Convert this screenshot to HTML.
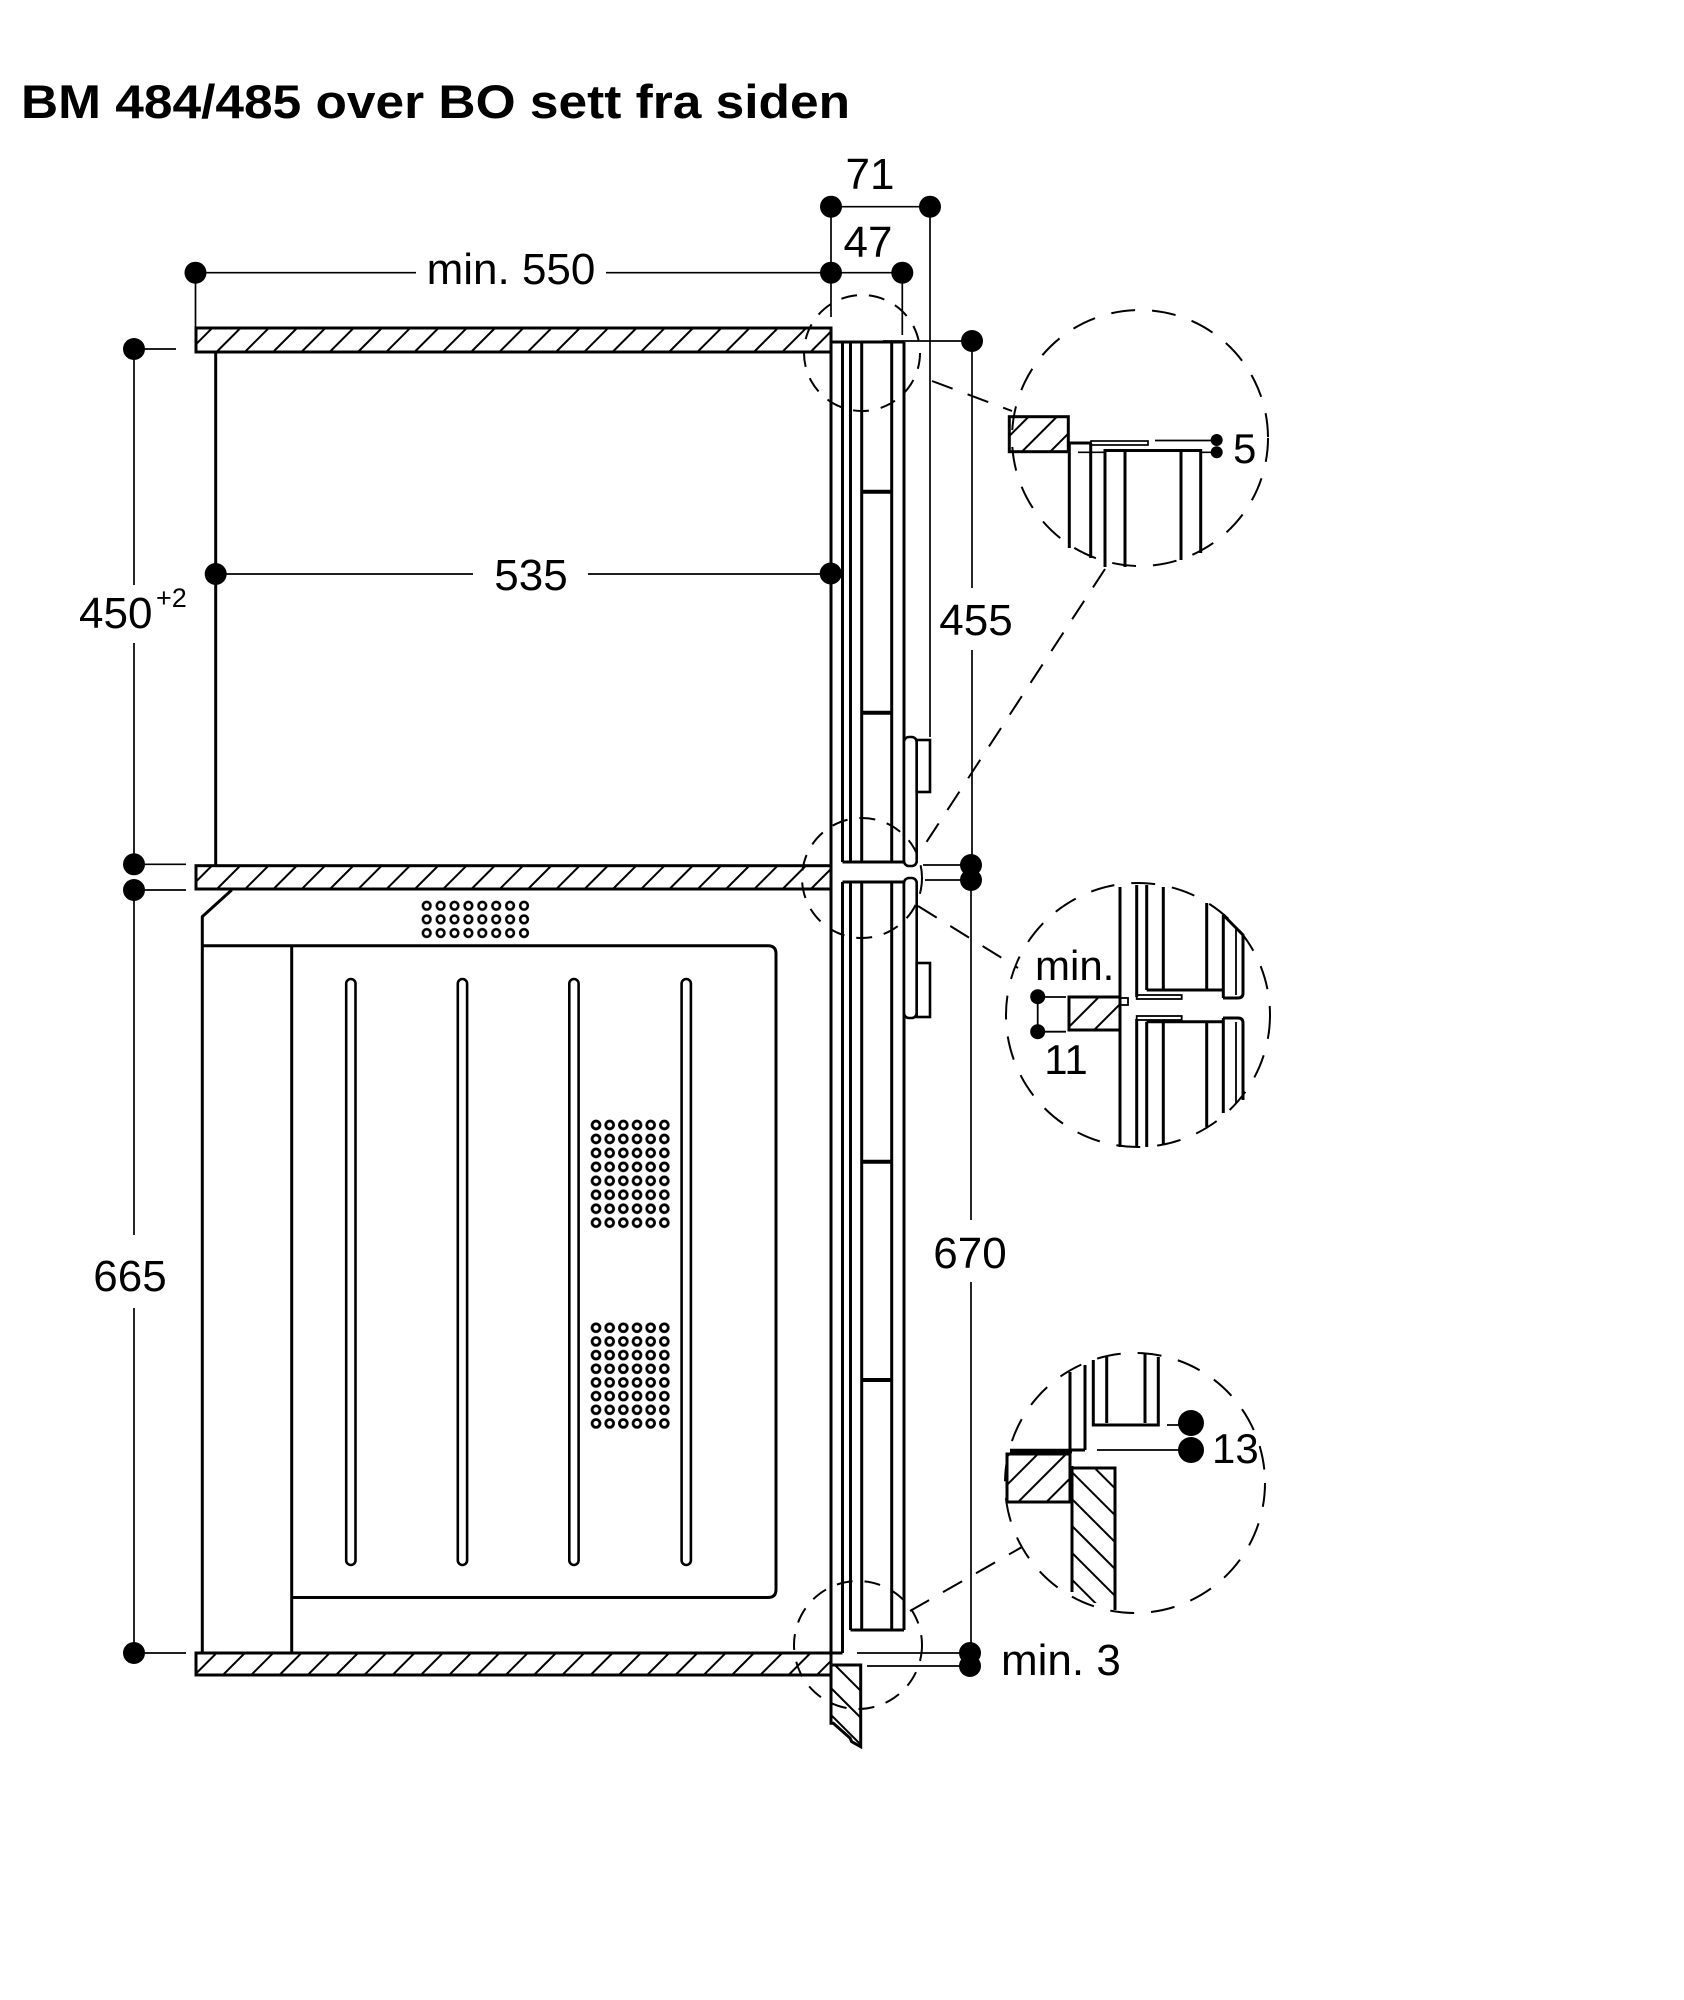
<!DOCTYPE html>
<html><head><meta charset="utf-8"><style>
html,body{margin:0;padding:0;background:#fff;}
svg{display:block;}
text{font-family:"Liberation Sans",Arial,sans-serif;fill:#000;}
</style></head><body>
<svg width="1684" height="2000" viewBox="0 0 1684 2000" xmlns="http://www.w3.org/2000/svg">
<defs>
<pattern id="h1" width="20" height="20" patternUnits="userSpaceOnUse" patternTransform="rotate(45)"><line x1="2" y1="0" x2="2" y2="20" stroke="#000" stroke-width="2"/></pattern>
<pattern id="h2" width="19" height="19" patternUnits="userSpaceOnUse" patternTransform="rotate(-45)"><line x1="2" y1="0" x2="2" y2="19" stroke="#000" stroke-width="2"/></pattern>
<pattern id="vent" x="419.75" y="898.9" width="13.9" height="13.65" patternUnits="userSpaceOnUse"><circle cx="6.95" cy="6.825" r="3.8" fill="none" stroke="#000" stroke-width="2.6"/></pattern>
<pattern id="gr1" x="589.2" y="1118" width="13.66" height="13.96" patternUnits="userSpaceOnUse"><circle cx="6.83" cy="6.98" r="3.9" fill="none" stroke="#000" stroke-width="2.8"/></pattern>
<pattern id="gr2" x="589.2" y="1320.9" width="13.66" height="13.67" patternUnits="userSpaceOnUse"><circle cx="6.83" cy="6.83" r="3.9" fill="none" stroke="#000" stroke-width="2.8"/></pattern>
</defs>

<!-- Title -->
<text x="21" y="118" font-size="47" font-weight="bold" textLength="829" lengthAdjust="spacingAndGlyphs">BM 484/485 over BO sett fra siden</text>

<!-- Shelves -->
<g stroke="#000" stroke-width="3">
<rect x="196" y="328" width="635" height="24" fill="url(#h1)"/>
<rect x="196" y="865.7" width="635" height="23.3" fill="url(#h1)"/>
<rect x="196" y="1653" width="635" height="22" fill="url(#h1)"/>
</g>

<!-- Upper cabinet wall -->
<line x1="215.7" y1="352" x2="215.7" y2="865.7" stroke="#000" stroke-width="3"/>

<!-- Oven -->
<g fill="none" stroke="#000" stroke-width="3">
<path d="M231.7 890 L202.3 916.7 L202.3 1653"/>
<path d="M202.3 945.7 L768 945.7 Q776 945.7 776 953.7 L776 1589.5 Q776 1597.5 768 1597.5 L291.7 1597.5"/>
<line x1="291.7" y1="945.7" x2="291.7" y2="1653"/>
</g>
<g fill="none" stroke="#000" stroke-width="2.6">
<rect x="346.2" y="979" width="9.3" height="586" rx="4.65"/>
<rect x="457.8" y="979" width="9.3" height="586" rx="4.65"/>
<rect x="569.3" y="979" width="9.3" height="586" rx="4.65"/>
<rect x="681.6" y="979" width="9.3" height="586" rx="4.65"/>
</g>
<rect x="419.75" y="898.9" width="111.2" height="40.95" fill="url(#vent)"/>
<rect x="589.2" y="1118" width="81.96" height="111.68" fill="url(#gr1)"/>
<rect x="589.2" y="1320.9" width="81.96" height="109.36" fill="url(#gr2)"/>

<!-- Device column -->
<g fill="none" stroke="#000" stroke-width="3">
<line x1="831" y1="341" x2="831" y2="1723"/>
<path d="M842.5 342 V862 M850.5 342 V862 M861.7 342 V862 M891.7 342 V862 M904 342 V862"/>
<path d="M842.5 882 V1653 M850.5 882 V1630 M861.7 882 V1630 M891.7 882 V1630 M904 882 V1630"/>
<path d="M831 342 H904 M842.5 862 H904 M842.5 882 H904 M850.5 1630 H904 M831 1653 H842.5"/>
</g>
<g stroke="#000" stroke-width="4">
<path d="M861.7 491.7 H891.7 M861.7 712.7 H891.7 M861.7 1161.7 H891.7 M861.7 1380 H891.7"/>
</g>
<g fill="#fff" stroke="#000" stroke-width="2.6">
<rect x="904" y="737" width="12.7" height="129" rx="5"/>
<rect x="916.7" y="740" width="13.3" height="52"/>
<rect x="904" y="878" width="12.7" height="140" rx="5"/>
<rect x="916.7" y="963" width="13.3" height="54"/>
</g>
<!-- plinth panel -->
<polygon points="831,1665 860.7,1665 860.7,1746.7 851.7,1741.7 850,1738 833.3,1723.3 831,1723.3" fill="url(#h2)" stroke="#000" stroke-width="3"/>

<!-- Dimension lines -->
<g stroke="#000" stroke-width="1.7" fill="none">
<path d="M195.5 272.7 H416 M606 272.7 H902.3 M195.5 272.7 V328"/>
<path d="M831 206.7 H930 M831 206.7 V317 M930 206.7 V737 M902.3 272.7 V335"/>
<path d="M215.7 574 H473 M588 574 H830.7"/>
<path d="M134 349 V585 M134 643 V864.3 M134 890 V1235 M134 1308 V1653"/>
<path d="M143 349 H176 M145 864.3 H186 M145 890 H186 M145 1653 H186"/>
<path d="M972 341 V588 M972 650 V865 M971 880 V1220 M971 1282 V1653 M970 1653 V1666"/>
<path d="M883 341 H972 M923 865 H971 M925 880 H971 M857 1653 H970 M867 1666 H970"/>
</g>
<g fill="#000">
<circle cx="195.5" cy="272.7" r="11"/><circle cx="831" cy="272.7" r="11"/><circle cx="902.3" cy="272.7" r="11"/>
<circle cx="831" cy="206.7" r="11"/><circle cx="930" cy="206.7" r="11"/>
<circle cx="215.7" cy="574" r="11"/><circle cx="830.7" cy="573.5" r="11"/>
<circle cx="134" cy="349" r="11"/><circle cx="134" cy="864.3" r="11"/><circle cx="134" cy="890" r="11"/><circle cx="134" cy="1653" r="11"/>
<circle cx="972" cy="341" r="11"/><circle cx="971" cy="865" r="11"/><circle cx="971" cy="880" r="11"/>
<circle cx="970" cy="1653" r="11"/><circle cx="970" cy="1666" r="11"/>
</g>

<!-- Dimension texts -->
<g font-size="44">
<text x="870" y="189" text-anchor="middle">71</text>
<text x="868" y="257" text-anchor="middle">47</text>
<text x="511" y="284" text-anchor="middle">min. 550</text>
<text x="531" y="590" text-anchor="middle">535</text>
<text x="79" y="628">450</text>
<text x="130" y="1291" text-anchor="middle">665</text>
<text x="976" y="635" text-anchor="middle">455</text>
<text x="970" y="1268" text-anchor="middle">670</text>
<text x="1001" y="1675">min. 3</text>
</g>
<text x="156" y="607" font-size="27">+2</text>

<!-- Small dashed circles and leaders -->
<g fill="none" stroke="#000" stroke-width="2" stroke-dasharray="16 12">
<circle cx="862" cy="353" r="58"/>
<circle cx="862" cy="878" r="60"/>
<circle cx="858" cy="1645" r="64"/>
</g>
<g fill="none" stroke="#000" stroke-width="2" stroke-dasharray="22 16">
<line x1="932" y1="381" x2="1012" y2="411"/>
<line x1="1105" y1="569" x2="918" y2="855"/>
<line x1="918" y1="906" x2="1018" y2="968"/>
<line x1="910" y1="1611" x2="1022" y2="1547"/>
</g>

<!-- Big dashed circles -->
<g fill="none" stroke="#000" stroke-width="2" stroke-dasharray="24 17">
<circle cx="1140" cy="438" r="128"/>
<circle cx="1138" cy="1015" r="132"/>
<circle cx="1135" cy="1483" r="130"/>
</g>

<!-- Detail 1 -->
<rect x="1009.3" y="416.7" width="59" height="35" fill="url(#h1)" stroke="#000" stroke-width="3"/>
<g fill="none" stroke="#000" stroke-width="3">
<path d="M1069.3 443 V548 M1090.7 443 V558 M1069.3 443 H1091"/>
<path d="M1105 567 V450.5 H1200.7 V553 M1125 450.5 V567 M1181 450.5 V560"/>
</g>
<g fill="none" stroke="#000" stroke-width="1.7">
<rect x="1091" y="441" width="57" height="4"/>
<path d="M1078 452.3 H1104 M1201 452.3 H1216.7 M1155 440.5 H1216.7"/>
</g>
<circle cx="1216.7" cy="440" r="6"/><circle cx="1216.7" cy="452.3" r="6"/>
<text x="1233" y="463" font-size="42">5</text>

<!-- Detail 2 -->
<rect x="1069" y="997" width="51" height="33" fill="url(#h1)" stroke="#000" stroke-width="3"/>
<g fill="none" stroke="#000" stroke-width="3">
<path d="M1120 887 V1147 M1136.7 885 V997 M1146.7 885 V990 M1163.3 887 V990 M1206.7 903 V990 M1223.3 915 V998 M1146.7 990 H1223.3"/>
<path d="M1223.3 915 L1243 935 L1243 993 Q1243 998 1238 998 L1223 998"/>
<path d="M1136.7 1019 V1147 M1146.7 1021.7 V1147 M1163.3 1021.7 V1145 M1206.7 1021.7 V1127 M1223.3 1018 V1113 M1146.7 1021.7 H1223.3"/>
<path d="M1223 1018 L1238 1018 Q1243 1018 1243 1023 L1243 1100"/>
</g>
<g fill="none" stroke="#000" stroke-width="1.8">
<rect x="1136.7" y="995" width="45" height="4"/>
<rect x="1136.7" y="1016" width="45" height="4"/>
<rect x="1120" y="998" width="8" height="7"/>
<path d="M1236 928 V995 M1236 1022 V1103"/>
<path d="M1037.7 996.7 V1031.7 M1045 997 H1066 M1045 1031.7 H1066"/>
</g>
<circle cx="1037.7" cy="996.7" r="7.5"/><circle cx="1037.7" cy="1031.7" r="7.5"/>
<text x="1035" y="980" font-size="42">min.</text>
<text x="1066" y="1074" font-size="42" text-anchor="middle">11</text>

<!-- Detail 3 -->
<rect x="1007" y="1454" width="63" height="48" fill="url(#h1)" stroke="#000" stroke-width="3"/>
<rect x="1072" y="1468" width="43" height="135" fill="url(#h2)"/>
<g fill="none" stroke="#000" stroke-width="3">
<path d="M1072 1466 V1592 M1072 1468 H1115 V1610"/>
<path d="M1070 1372 V1452 M1085 1365 V1450 M1070 1450 H1085"/>
<path d="M1093.3 1360 V1425 H1158.3 V1357 M1106.7 1357 V1423 M1145 1353 V1423"/>
</g>
<line x1="1010" y1="1451" x2="1072" y2="1451" stroke="#000" stroke-width="4.5"/>
<g stroke="#000" stroke-width="1.8">
<path d="M1167 1425 H1191 M1097 1450 H1191"/>
</g>
<circle cx="1191" cy="1423" r="13"/><circle cx="1191" cy="1450" r="13"/>
<text x="1212" y="1463" font-size="42">13</text>
</svg>
</body></html>
